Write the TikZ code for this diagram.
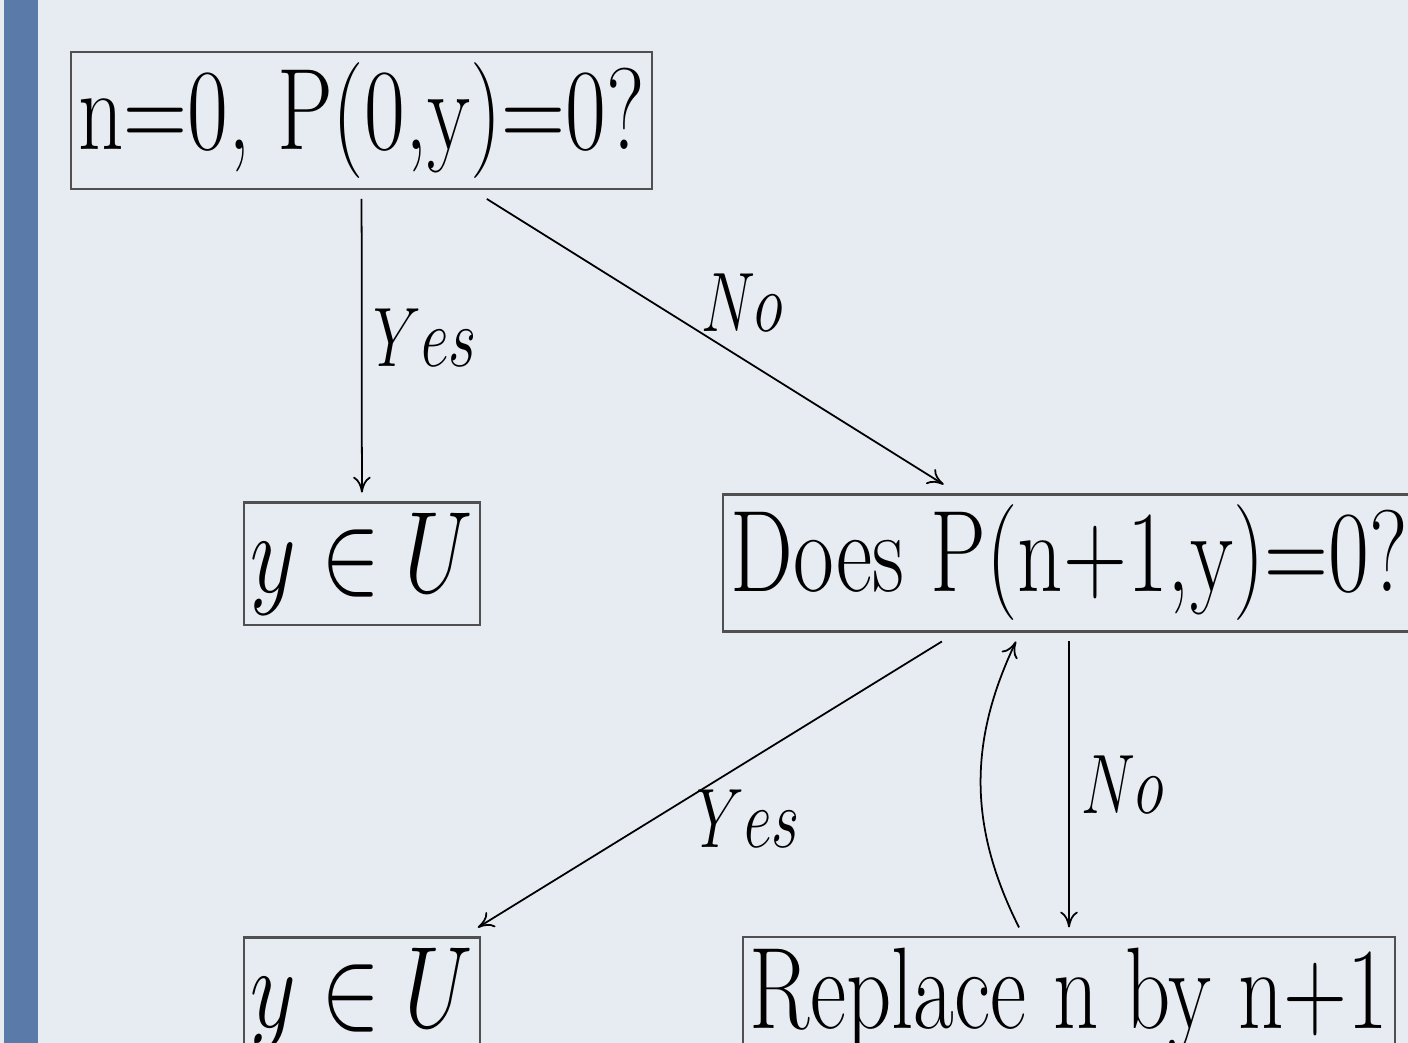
\RequirePackage{fix-cm}
\documentclass[tikz,border=0pt]{standalone}
\usepackage{amsmath,amssymb}
\usepackage{graphicx}
\usepackage{tikz}
\usetikzlibrary{arrows.meta,positioning,calc}
\newcommand{\nar}[1]{\scalebox{0.765}[1]{#1}}
\newcommand{\lnar}[1]{\scalebox{0.72}[1]{#1}}
\definecolor{cBack}{HTML}{E7EBF2}
\definecolor{cBar}{HTML}{5A7BAA}
\definecolor{cFrame}{HTML}{505050}
\tikzset{
  >={Computer Modern Rightarrow[length=4.5pt,width=5pt]},
  qbox/.style={draw=cFrame, line width=0.6pt, inner xsep=2pt, inner ysep=3pt,
               outer sep=0.1cm, font=\fontsize{33}{40}\selectfont},
  lbl/.style={font=\fontsize{24}{29}\selectfont, inner sep=0pt},
  flow/.style={->, line width=0.5pt, black},
}
\begin{document}
\begin{tikzpicture}
  \fill[cBack] (0,0) rectangle (14.08,-10.43);
  \fill[cBar] (0.04,0) rectangle (0.38,-10.43);
  \useasboundingbox (0,0) rectangle (14.08,-10.43);

  \node[qbox] (start) at (3.615,-1.205) {\nar{n=0, P(0,y)=0?}};
  \node[qbox] (inU)   at (3.62,-5.64)   {\nar{$y\in U$}};
  \node[qbox] (test)  at (10.69,-5.63)  {\nar{Does P(n+1,y)=0?}};
  \node[qbox] (inUb)  at (3.62,-9.99)   {\nar{$y\in U$}};
  \node[qbox] (incr)  at (10.69,-10.0)  {\nar{Replace n by n+1}};

  \draw[flow] (start) -- node[lbl, midway, anchor=west, xshift=0.11cm, yshift=0.08cm] {\lnar{$Yes$}} (inU);
  \draw[flow] (start) -- node[lbl, pos=0.467, anchor=south west] {\lnar{$No$}} (test);
  \draw[flow] (test) -- node[lbl, pos=0.53, anchor=north west, yshift=0.04cm] {\lnar{$Yes$}} (inUb);
  \draw[flow] (test) -- node[lbl, midway, anchor=west, xshift=0.12cm] {\lnar{$No$}} (incr);
  \draw[flow] ([xshift=-0.5cm]incr.north) to[bend left=26] ([xshift=-0.53cm]test.south);
\end{tikzpicture}
\end{document}
